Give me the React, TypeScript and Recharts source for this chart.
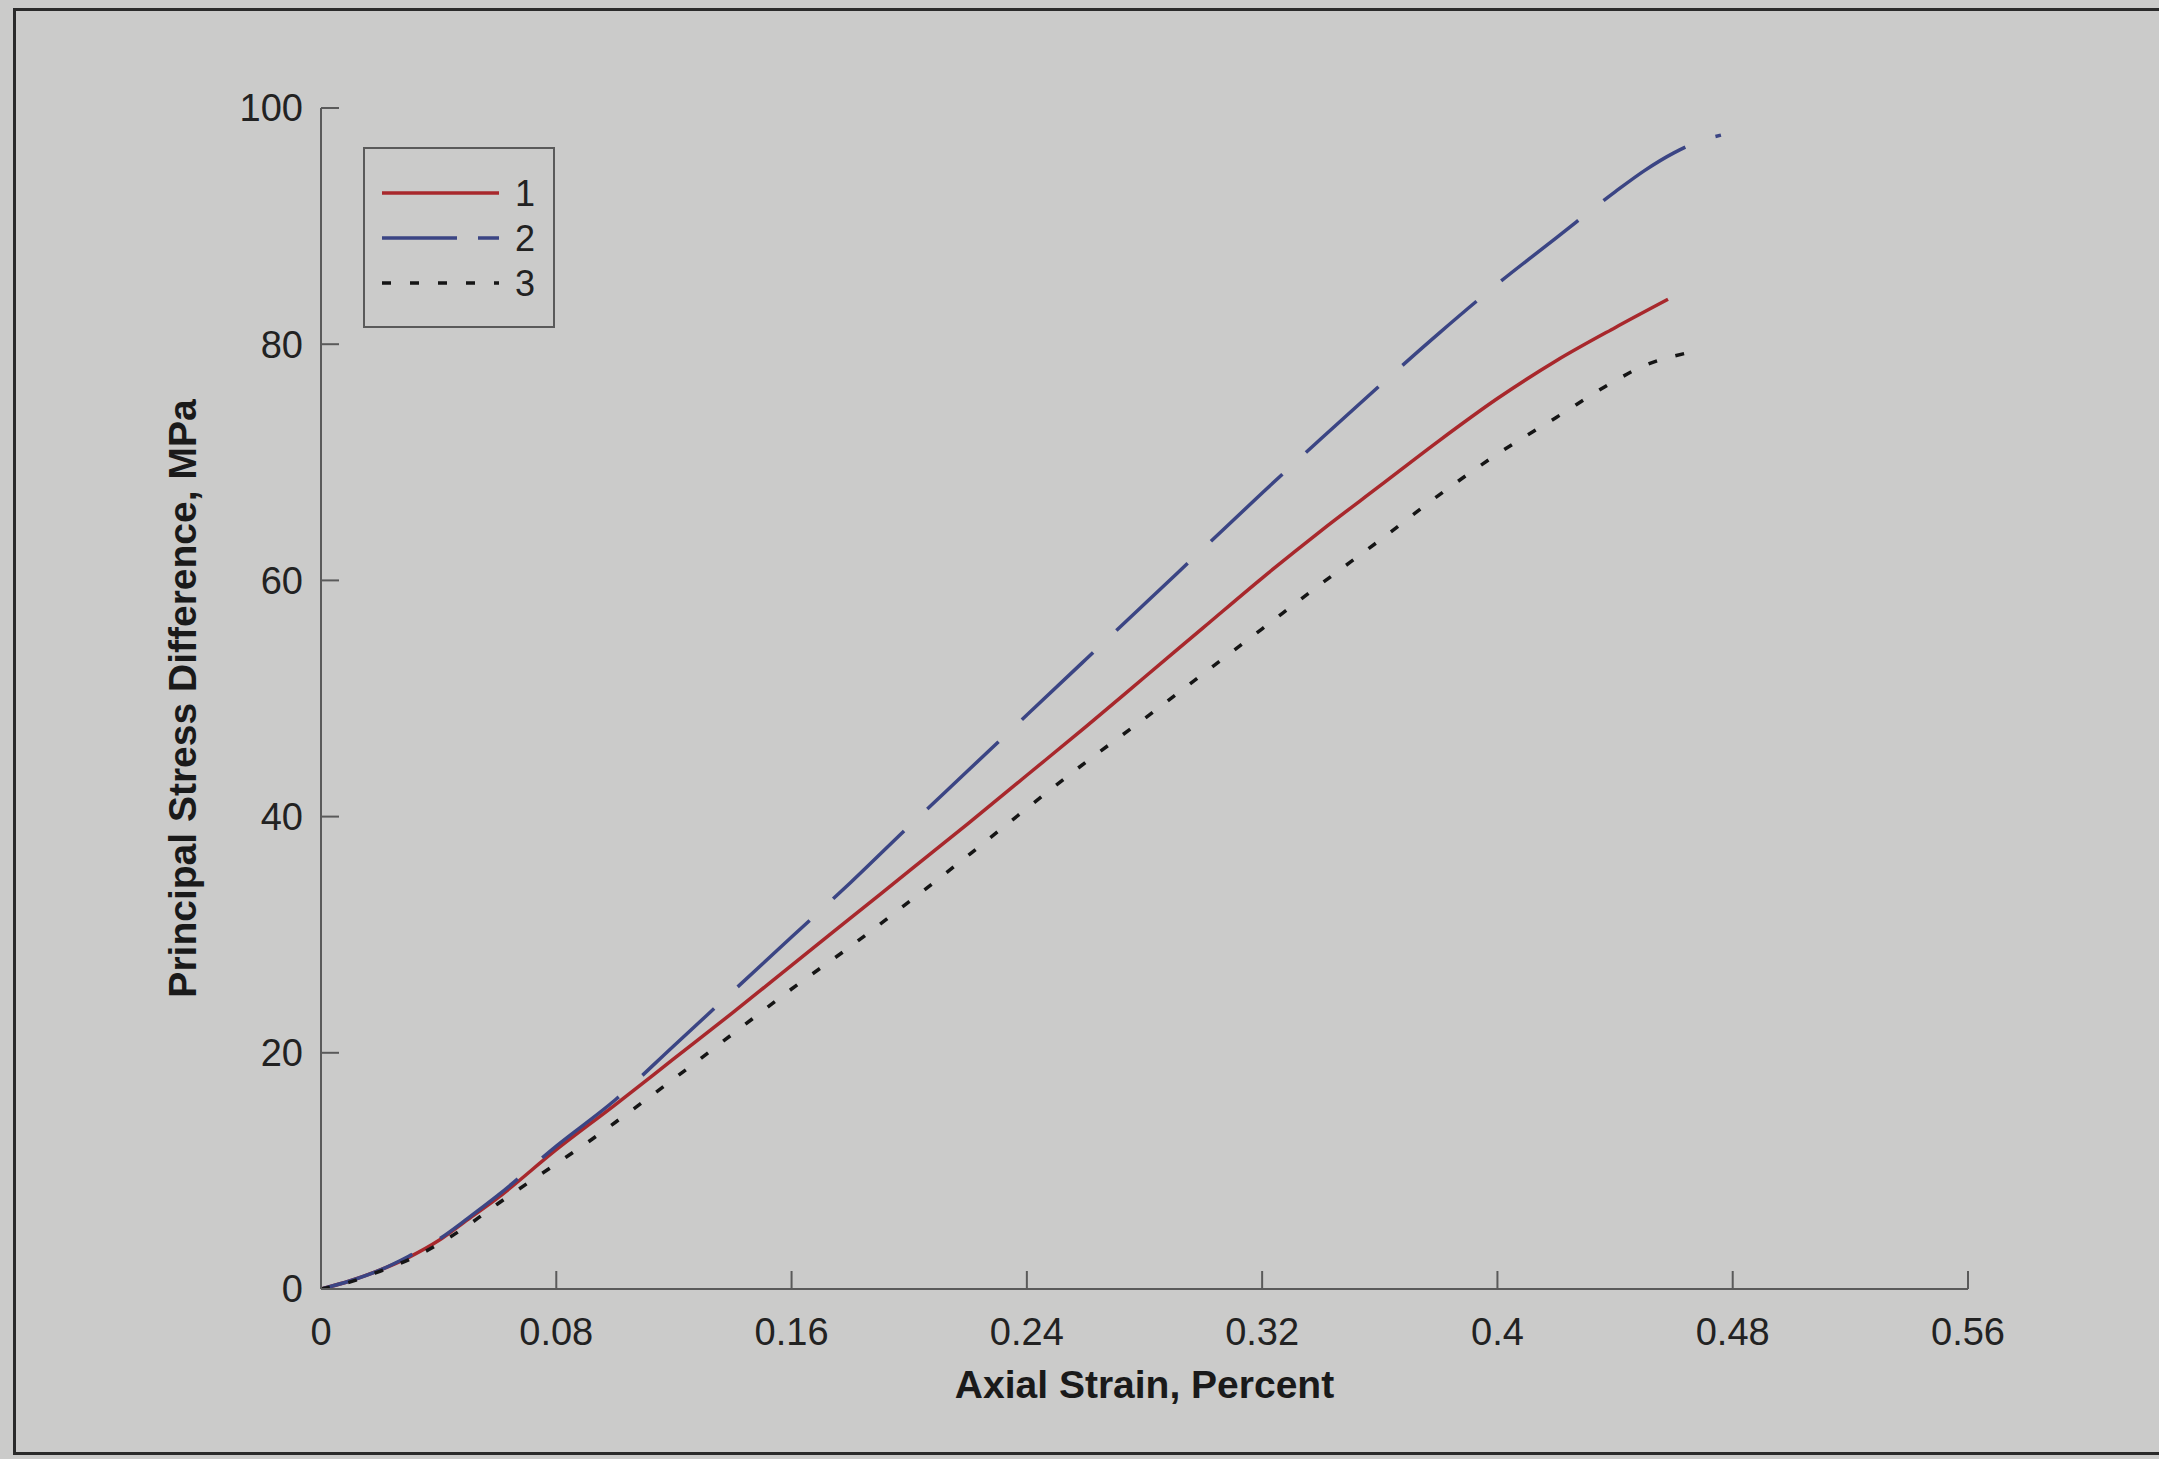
import { ComposedChart, Line, XAxis, YAxis, Legend } from 'recharts';

// strain values (percent) and principal stress difference (MPa)
const strain1 = [0, 0.01, 0.02, 0.03, 0.04, 0.05, 0.06, 0.08, 0.1, 0.12, 0.14, 0.16, 0.18, 0.2, 0.22, 0.24, 0.26, 0.28, 0.3, 0.32, 0.34, 0.36, 0.38, 0.4, 0.42, 0.44, 0.458];
const stress1 = [0, 0.7, 1.6, 2.7, 4.1, 5.9, 7.7, 11.8, 15.6, 19.5, 23.4, 27.4, 31.4, 35.4, 39.4, 43.5, 47.6, 51.8, 56.0, 60.2, 64.2, 68.0, 71.8, 75.4, 78.6, 81.4, 83.8];

const strain2 = [0, 0.01, 0.02, 0.03, 0.04, 0.05, 0.06, 0.08, 0.1, 0.12, 0.14, 0.16, 0.18, 0.2, 0.22, 0.24, 0.26, 0.28, 0.3, 0.32, 0.34, 0.36, 0.38, 0.4, 0.42, 0.44, 0.45, 0.46, 0.47, 0.476];
const stress2 = [0, 0.7, 1.6, 2.8, 4.2, 6.0, 7.9, 12.1, 16.0, 20.6, 25.2, 29.8, 34.4, 39.2, 43.9, 48.6, 53.3, 58.0, 62.7, 67.4, 72.0, 76.5, 80.9, 85.1, 89.0, 92.9, 94.7, 96.2, 97.3, 97.7];

const strain3 = [0, 0.01, 0.02, 0.03, 0.04, 0.05, 0.06, 0.08, 0.09, 0.1, 0.12, 0.14, 0.16, 0.18, 0.2, 0.22, 0.24, 0.26, 0.28, 0.3, 0.32, 0.34, 0.36, 0.38, 0.4, 0.42, 0.44, 0.45, 0.4635];
const stress3 = [0, 0.6, 1.5, 2.5, 3.8, 5.4, 7.2, 10.6, 12.3, 14.1, 17.8, 21.6, 25.4, 29.0, 32.8, 36.7, 40.7, 44.6, 48.3, 52.1, 55.9, 59.7, 63.4, 67.2, 70.7, 73.8, 76.9, 78.2, 79.2];

const xTicks = [0, 0.08, 0.16, 0.24, 0.32, 0.4, 0.48, 0.56];
const yTicks = [0, 20, 40, 60, 80, 100];

const pairs = (xs: number[], ys: number[]) => xs.map((x, i) => ({ x, y: ys[i] }));

const series = [
  { name: '1', data: pairs(strain1, stress1), color: '#a8282c', dash: undefined, legendDash: undefined },
  { name: '2', data: pairs(strain2, stress2), color: '#3b4584', dash: '98 32', legendDash: '75 21' },
  { name: '3', data: pairs(strain3, stress3), color: '#151515', dash: '9 19', legendDash: '9 19' },
];

const FONT = 'Arial, "Liberation Sans", Helvetica, sans-serif';
const BG = '#cbcbca';
const FRAME = '#5a5a5a';

function LegendBox(props: any) {
  const payload = props.payload || [];
  return (
    <div style={{ width: 192, height: 181, border: `2px solid ${FRAME}`, background: BG, boxSizing: 'border-box' }}>
      <svg width={188} height={177} style={{ display: 'block' }}>
        {payload.map((p: any, i: number) => {
          const y = 44 + i * 45;
          const s = series.find((d) => d.name === p.value);
          return (
            <g key={p.value}>
              <line x1={17} x2={134} y1={y} y2={y} stroke={p.color} strokeWidth={3.5}
                strokeDasharray={s?.legendDash} />
              <text x={150} y={y + 13} fontSize={36} fill="#222" fontFamily={FONT}>{p.value}</text>
            </g>
          );
        })}
      </svg>
    </div>
  );
}

export default function App() {
  return (
    <div style={{ position: 'absolute', left: 0, top: 0, width: 2159, height: 1459, background: BG, overflow: 'hidden' }}>
      <div style={{ position: 'absolute', left: 13, top: 8, width: 2170, height: 1447, border: '3px solid #2a2a2a', boxSizing: 'border-box' }} />
      <ComposedChart
        width={2159}
        height={1459}
        margin={{ top: 108, right: 191, left: 241, bottom: 110 }}
        style={{ fontFamily: FONT }}
      >
        <XAxis
          dataKey="x"
          type="number"
          domain={[0, 0.56]}
          ticks={xTicks}
          allowDataOverflow
          height={60}
          stroke={FRAME}
          strokeWidth={2}
          tickSize={-18}
          tickMargin={47}
          tick={{ fontSize: 38, fill: '#222' }}
          label={(p: any) => {
            const vb = p.viewBox;
            return (
              <text x={vb.x + vb.width / 2} y={1398} textAnchor="middle" fontSize={39} fontWeight="bold" fill="#1a1a1a" fontFamily={FONT}>
                Axial Strain, Percent
              </text>
            );
          }}
        />
        <XAxis
          xAxisId="top"
          orientation="top"
          type="number"
          domain={[0, 0.56]}
          ticks={xTicks}
          allowDataOverflow
          height={0}
          stroke={FRAME}
          strokeWidth={2}
          tickSize={-18}
          tick={false}
        />
        <YAxis
          type="number"
          domain={[0, 100]}
          ticks={yTicks}
          allowDataOverflow
          width={80}
          stroke={FRAME}
          strokeWidth={2}
          tickSize={-18}
          tickMargin={36}
          tick={{ fontSize: 38, fill: '#222' }}
          label={(p: any) => {
            const vb = p.viewBox;
            const cy = vb.y + vb.height / 2;
            return (
              <text x={196} y={cy} transform={`rotate(-90, 196, ${cy})`} textAnchor="middle" fontSize={39} fontWeight="bold" fill="#1a1a1a" fontFamily={FONT}>
                Principal Stress Difference, MPa
              </text>
            );
          }}
        />
        <YAxis
          yAxisId="right"
          orientation="right"
          type="number"
          domain={[0, 100]}
          ticks={yTicks}
          allowDataOverflow
          width={0}
          stroke={FRAME}
          strokeWidth={2}
          tickSize={-18}
          tick={false}
        />
        <Legend
          layout="vertical"
          align="center"
          verticalAlign="middle"
          content={<LegendBox />}
          wrapperStyle={{ position: 'absolute', left: 363, top: 147, width: 192, height: 181 }}
        />
        {series.map((s) => (
          <Line
            key={s.name}
            data={s.data}
            dataKey="y"
            name={s.name}
            type="monotone"
            stroke={s.color}
            strokeWidth={3.5}
            strokeDasharray={s.dash}
            dot={false}
            activeDot={false}
            isAnimationActive={false}
          />
        ))}
      </ComposedChart>
    </div>
  );
}
